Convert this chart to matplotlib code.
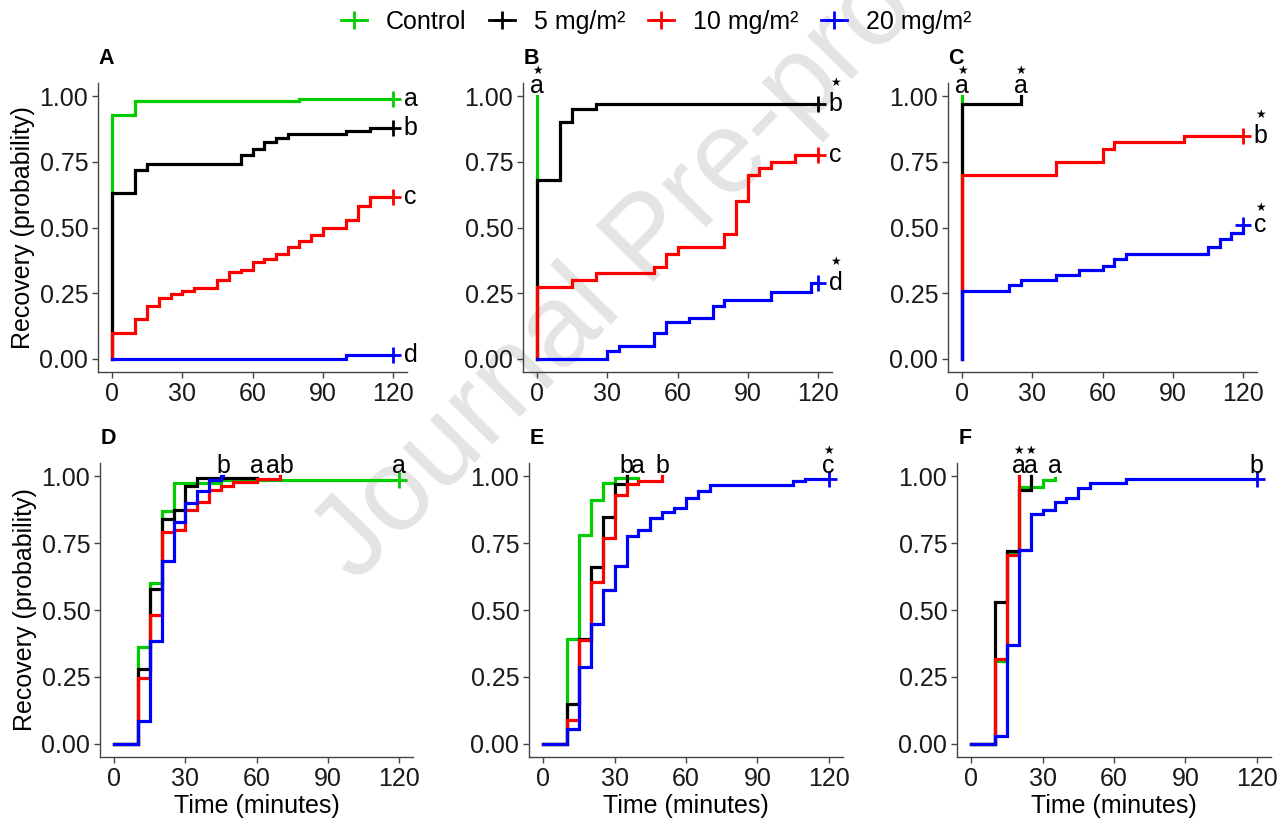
import matplotlib
matplotlib.use("Agg")
import matplotlib.pyplot as plt
from matplotlib.lines import Line2D

plt.rcParams["font.family"] = ["Liberation Sans", "DejaVu Sans"]

# ======================
# data
# ======================
groups = ["Control", "5 mg/m²", "10 mg/m²", "20 mg/m²"]
colors = ["#00CD00", "#000000", "#FF0000", "#0000FF"]

# panel A
a_ctrl_t = [0, 10, 80]
a_ctrl_y = [0.93, 0.98, 0.99]
a_5_t = [0, 10, 15, 55, 60, 65, 70, 75, 100, 110]
a_5_y = [0.63, 0.72, 0.74, 0.775, 0.80, 0.825, 0.84, 0.855, 0.867, 0.88]
a_10_t = [0, 10, 15, 20, 25, 30, 35, 45, 50, 55, 60, 65, 70, 75, 80, 85, 90, 100, 105, 110]
a_10_y = [0.10, 0.15, 0.20, 0.23, 0.245, 0.26, 0.27, 0.30, 0.33, 0.34, 0.37, 0.38,
          0.40, 0.425, 0.45, 0.47, 0.50, 0.53, 0.58, 0.615]
a_20_t = [100]
a_20_y = [0.015]
a_end = [120, 120, 120, 120]
a_lab = ["a", "b", "c", "d"]
a_star = [False, False, False, False]

# panel B
b_ctrl_t = [0]
b_ctrl_y = [1.0]
b_5_t = [0, 10, 15, 25]
b_5_y = [0.68, 0.90, 0.95, 0.97]
b_10_t = [0, 15, 25, 50, 55, 60, 80, 85, 90, 95, 100, 110]
b_10_y = [0.275, 0.30, 0.325, 0.35, 0.40, 0.425, 0.475, 0.60, 0.70, 0.725, 0.75, 0.775]
b_20_t = [30, 35, 50, 55, 65, 75, 80, 100, 117]
b_20_y = [0.03, 0.05, 0.10, 0.14, 0.155, 0.20, 0.225, 0.255, 0.29]
b_end = [0, 120, 120, 120]
b_lab = ["a", "b", "c", "d"]
b_star = [True, True, False, True]

# panel C
c_ctrl_t = [0]
c_ctrl_y = [1.0]
c_5_t = [0, 25]
c_5_y = [0.97, 1.0]
c_10_t = [0, 40, 60, 65, 95]
c_10_y = [0.70, 0.75, 0.80, 0.825, 0.85]
c_20_t = [0, 20, 25, 40, 50, 60, 65, 70, 105, 110, 115, 120]
c_20_y = [0.26, 0.28, 0.30, 0.32, 0.34, 0.355, 0.38, 0.40, 0.425, 0.455, 0.48, 0.51]
c_end = [0, 25, 120, 120]
c_lab = ["a", "a", "b", "c"]
c_star = [True, True, True, True]

# panel D
d_ctrl_t = [10, 15, 20, 25, 45]
d_ctrl_y = [0.36, 0.60, 0.87, 0.975, 0.985]
d_5_t = [10, 15, 20, 25, 30, 35]
d_5_y = [0.28, 0.58, 0.84, 0.875, 0.965, 0.995]
d_10_t = [10, 15, 20, 25, 30, 35, 40, 45, 50, 60, 70]
d_10_y = [0.245, 0.48, 0.79, 0.80, 0.875, 0.905, 0.95, 0.965, 0.98, 0.99, 1.0]
d_20_t = [10, 15, 20, 25, 30, 35, 40, 45]
d_20_y = [0.085, 0.385, 0.685, 0.83, 0.90, 0.945, 0.985, 1.0]
d_end = [120, 60, 70, 46]
d_lab = ["a", "a", "ab", "b"]
d_star = [False, False, False, False]

# panel E
e_ctrl_t = [10, 15, 20, 25, 30]
e_ctrl_y = [0.39, 0.78, 0.91, 0.975, 0.995]
e_5_t = [10, 15, 20, 25, 30, 35]
e_5_y = [0.147, 0.39, 0.66, 0.848, 0.97, 1.0]
e_10_t = [10, 15, 20, 25, 30, 35, 40, 50]
e_10_y = [0.089, 0.389, 0.604, 0.768, 0.932, 0.972, 0.984, 1.0]
e_20_t = [10, 15, 20, 25, 30, 35, 40, 45, 50, 55, 60, 65, 70, 105, 110]
e_20_y = [0.055, 0.288, 0.449, 0.576, 0.666, 0.777, 0.798, 0.843, 0.868, 0.88,
          0.92, 0.944, 0.969, 0.981, 0.99]
e_end = [40, 35, 50, 120]
e_lab = ["a", "b", "b", "c"]
e_star = [False, False, False, True]

# panel F
f_ctrl_t = [10, 15, 20, 30, 35]
f_ctrl_y = [0.31, 0.71, 0.96, 0.985, 0.995]
f_5_t = [10, 15, 20, 25]
f_5_y = [0.53, 0.72, 0.948, 1.0]
f_10_t = [10, 15, 20]
f_10_y = [0.315, 0.705, 1.0]
f_20_t = [10, 15, 20, 25, 30, 35, 40, 45, 50, 65]
f_20_y = [0.03, 0.368, 0.726, 0.858, 0.873, 0.904, 0.92, 0.958, 0.975, 0.989]
f_end = [35, 25, 20, 120]
f_lab = ["a", "a", "a", "b"]
f_star = [False, True, True, False]

panels = [
    ("A", [(a_ctrl_t, a_ctrl_y), (a_5_t, a_5_y), (a_10_t, a_10_y), (a_20_t, a_20_y)], a_end, a_lab, a_star),
    ("B", [(b_ctrl_t, b_ctrl_y), (b_5_t, b_5_y), (b_10_t, b_10_y), (b_20_t, b_20_y)], b_end, b_lab, b_star),
    ("C", [(c_ctrl_t, c_ctrl_y), (c_5_t, c_5_y), (c_10_t, c_10_y), (c_20_t, c_20_y)], c_end, c_lab, c_star),
    ("D", [(d_ctrl_t, d_ctrl_y), (d_5_t, d_5_y), (d_10_t, d_10_y), (d_20_t, d_20_y)], d_end, d_lab, d_star),
    ("E", [(e_ctrl_t, e_ctrl_y), (e_5_t, e_5_y), (e_10_t, e_10_y), (e_20_t, e_20_y)], e_end, e_lab, e_star),
    ("F", [(f_ctrl_t, f_ctrl_y), (f_5_t, f_5_y), (f_10_t, f_10_y), (f_20_t, f_20_y)], f_end, f_lab, f_star),
]

# axes boxes in pixels: left, right, top, bottom
W, H = 1284, 825
boxes = [
    (98, 407, 83, 372),
    (523, 832, 83, 372),
    (948, 1257, 83, 372),
    (100, 413, 463, 757),
    (529, 843, 463, 757),
    (957, 1271, 463, 757),
]

FS = 18
AXC = "#444444"

fig = plt.figure(figsize=(W / 100, H / 100), dpi=100)

# watermark behind everything
fig.text(650 / W, 1 - 242 / H, "Journal Pre-proof", rotation=45.5, fontsize=84,
         color="#e4e4e4", ha="center", va="center", zorder=-1)

for k, (name, curves, ends, labs, stars) in enumerate(panels):
    l, r, t, b = boxes[k]
    ax = fig.add_axes([l / W, 1 - b / H, (r - l) / W, (b - t) / H])
    ax.set_facecolor("none")
    top_row = k < 3

    for i, (tt, yy) in enumerate(curves):
        xs = [0] + list(tt) + [ends[i]]
        ys = [0] + list(yy) + [yy[-1]]
        ax.step(xs, ys, where="post", color=colors[i], lw=2.3, zorder=2 + i,
                solid_joinstyle="miter", clip_on=False)
        if ends[i] == 120:
            ax.plot(ends[i], yy[-1], marker="+", ms=12, mew=2, color=colors[i],
                    zorder=2 + i, clip_on=False)

        # significance letters
        if top_row and ends[i] == 120:
            lx, ly, va = 127.5, yy[-1], "center"
            soff = 12.5 if labs[i][-1] in "ac" else 15.5
        else:
            lx, ly, va = ends[i], 1.012, "baseline"
            soff = 16 if labs[i][-1] in "ac" else 20.5
        ax.text(lx, ly, labs[i], fontsize=FS, ha="center", va=va, color="black",
                clip_on=False, zorder=10)
        if stars[i]:
            ax.annotate("★", xy=(lx, ly), xytext=(0, soff), textcoords="offset points",
                        ha="center", va="center", fontsize=8.5, family="DejaVu Sans",
                        annotation_clip=False, zorder=10)

    ax.set_xlim(-6, 126)
    ax.set_ylim(-0.05, 1.05)
    ax.set_xticks([0, 30, 60, 90, 120])
    ax.set_yticks([0, 0.25, 0.5, 0.75, 1.0])
    ax.set_yticklabels(["0.00", "0.25", "0.50", "0.75", "1.00"])
    for s in ["top", "right"]:
        ax.spines[s].set_visible(False)
    for s in ["left", "bottom"]:
        ax.spines[s].set_color(AXC)
        ax.spines[s].set_linewidth(1.0)
    ax.tick_params(colors=AXC, labelcolor="#1a1a1a", labelsize=FS, length=4,
                   width=1.0, pad=3)

    if k in (0, 3):
        ax.set_ylabel("Recovery (probability)", fontsize=FS, labelpad=3)
    if k >= 3:
        ax.set_xlabel("Time (minutes)", fontsize=FS, labelpad=2)

    fig.text((l + 8) / W, 1 - (t - 24) / H, name, fontsize=15.5, fontweight="bold",
             ha="center", va="center")

handles = [Line2D([0], [0], color=c, lw=2, marker="+", ms=13, mew=2) for c in colors]
fig.legend(handles, groups, loc="center", bbox_to_anchor=(656 / W, 1 - 22 / H),
           ncol=4, frameon=False, fontsize=FS, handlelength=1.05,
           handletextpad=0.75, columnspacing=0.9)

fig.savefig("out.png", dpi=100)
